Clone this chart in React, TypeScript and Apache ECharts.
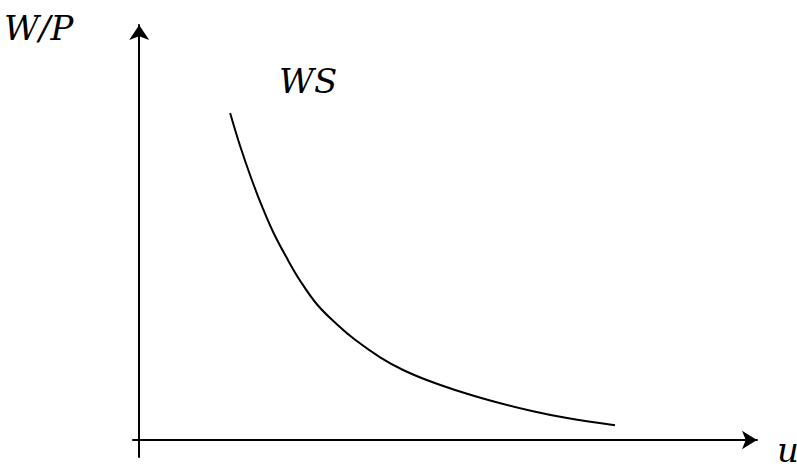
import React, { useEffect, useRef } from "react";
import * as echarts from "echarts";

const uValues = [14.72, 16.34, 18.12, 19.9, 21.68, 23.95, 26.05, 28.8, 32.04, 34.95, 39.0, 42.72, 47.09, 51.13, 56.8, 63.75, 69.26, 77.02];
const wpValues = [78.8, 70.84, 63.13, 56.24, 50.12, 43.71, 38.39, 32.65, 27.83, 24.14, 19.93, 16.87, 14.14, 12.05, 9.52, 6.92, 5.28, 3.54];
const curveName = "WS";
const xAxisLabel = "u";
const yAxisLabel = "W/P";

export default function App() {
  const ref = useRef<HTMLDivElement>(null);
  useEffect(() => {
    if (!ref.current) return;
    const chart = echarts.init(ref.current, null, { renderer: "svg" });
    const ts = {
      fontFamily: "DejaVu Serif",
      fontStyle: "italic",
      fontWeight: "normal",
      fontSize: 34,
      color: "#000",
    };
    chart.setOption({
      animation: false,
      backgroundColor: "#ffffff",
      title: [
        { text: yAxisLabel, left: 4, top: 11, padding: 0, textStyle: ts },
        { text: curveName, left: 279, top: 64, padding: 0, textStyle: ts },
        { text: xAxisLabel, left: 777, top: 433, padding: 0, textStyle: ts },
      ],
      grid: { left: 133, right: 40, top: 25, bottom: 9 },
      xAxis: {
        type: "value",
        min: -1,
        max: 100,
        axisLine: {
          show: true,
          onZero: true,
          symbol: ["none", "arrow"],
          symbolSize: [14, 15],
          lineStyle: { color: "#000", width: 2 },
        },
        axisTick: { show: false },
        axisLabel: { show: false },
        splitLine: { show: false },
      },
      yAxis: {
        type: "value",
        min: -4.1,
        max: 100,
        axisLine: {
          show: true,
          onZero: true,
          symbol: ["none", "arrow"],
          symbolSize: [15, 15],
          lineStyle: { color: "#000", width: 2 },
        },
        axisTick: { show: false },
        axisLabel: { show: false },
        splitLine: { show: false },
      },
      series: [
        {
          name: curveName,
          type: "line",
          smooth: 0.4,
          showSymbol: false,
          data: uValues.map((u, i) => [u, wpValues[i]]),
          lineStyle: { color: "#000", width: 2 },
        },
      ],
    });
    return () => chart.dispose();
  }, []);
  return <div ref={ref} style={{ width: 797, height: 466, position: "absolute", left: 0, top: 0 }} />;
}
